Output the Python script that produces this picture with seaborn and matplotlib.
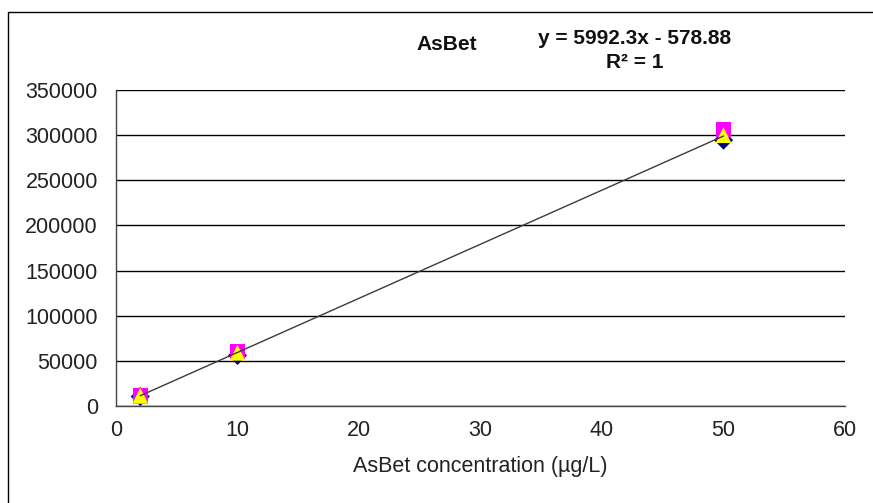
import matplotlib
matplotlib.use("Agg")
import matplotlib.pyplot as plt
import seaborn as sns
import pandas as pd
import numpy as np
from matplotlib.patches import Rectangle

# Data
conc = [2, 10, 50]
series_a = [10500, 56000, 294500]   # navy diamonds
series_b = [11000, 60500, 306000]   # magenta squares
series_c = [11400, 59000, 300000]   # yellow triangles
slope = 5992.3
intercept = -578.88
fit_x = [2, 50]
y_ticks = [0, 50000, 100000, 150000, 200000, 250000, 300000, 350000]
x_ticks = [0, 10, 20, 30, 40, 50, 60]

sns.set_theme(style="white")
plt.rcParams['font.family'] = ['Liberation Sans', 'DejaVu Sans']

fig = plt.figure(figsize=(8.73, 5.03), dpi=100)
ax = fig.add_axes([116/873, 97/503, (845-116)/873, (406-90)/503])

df = pd.DataFrame({
    "x": conc * 3,
    "y": series_a + series_b + series_c,
    "s": ["a"] * 3 + ["b"] * 3 + ["c"] * 3,
})

sns.scatterplot(data=df[df.s == "a"], x="x", y="y", marker="D", s=95,
                color="#000080", edgecolor="none", ax=ax, zorder=3, legend=False)
sns.scatterplot(data=df[df.s == "b"], x="x", y="y", marker="s", s=125,
                color="#FF00FF", edgecolor="none", ax=ax, zorder=4, legend=False)
sns.scatterplot(data=df[df.s == "c"], x="x", y="y", marker="^", s=130,
                color="#FFFF00", edgecolor="none", ax=ax, zorder=5, legend=False)

fx = np.array(fit_x, dtype=float)
sns.lineplot(x=fx, y=slope * fx + intercept, color="#3a3a3a", lw=1.0, ax=ax, zorder=6)

ax.set_xlim(0, 60)
ax.set_ylim(0, 350000)
ax.set_xticks(x_ticks)
ax.set_yticks(y_ticks)
ax.set_xticklabels([str(t) for t in x_ticks])
ax.set_yticklabels([str(t) for t in y_ticks])
ax.tick_params(axis="both", labelsize=15.5, colors="#222222", length=0)
ax.tick_params(axis="y", pad=13)
ax.tick_params(axis="x", pad=10)
ax.yaxis.grid(True, color="#000000", lw=1.0)
ax.set_axisbelow(True)
for sp in ["top", "right"]:
    ax.spines[sp].set_visible(False)
for sp in ["left", "bottom"]:
    ax.spines[sp].set_color("#444444")
    ax.spines[sp].set_linewidth(1.0)

ax.set_xlabel("AsBet concentration (µg/L)", fontsize=15.5, color="#222222", labelpad=11)
ax.set_ylabel("")

fig.text(447/873, 1 - 45/503, "AsBet", fontsize=15, fontweight="bold",
         ha="center", va="center", color="#111111")
fig.text(635/873, 1 - 38/503, "y = 5992.3x - 578.88", fontsize=15, fontweight="bold",
         ha="center", va="center", color="#111111")
fig.text(635/873, 1 - 62/503, "R² = 1", fontsize=15, fontweight="bold",
         ha="center", va="center", color="#111111")

fig.patches.append(Rectangle((8/873, -0.1), 1.0, 1 - 12/503 + 0.1, transform=fig.transFigure,
                             fill=False, edgecolor="#000000", lw=1.0))

fig.savefig("out.png", dpi=100)
